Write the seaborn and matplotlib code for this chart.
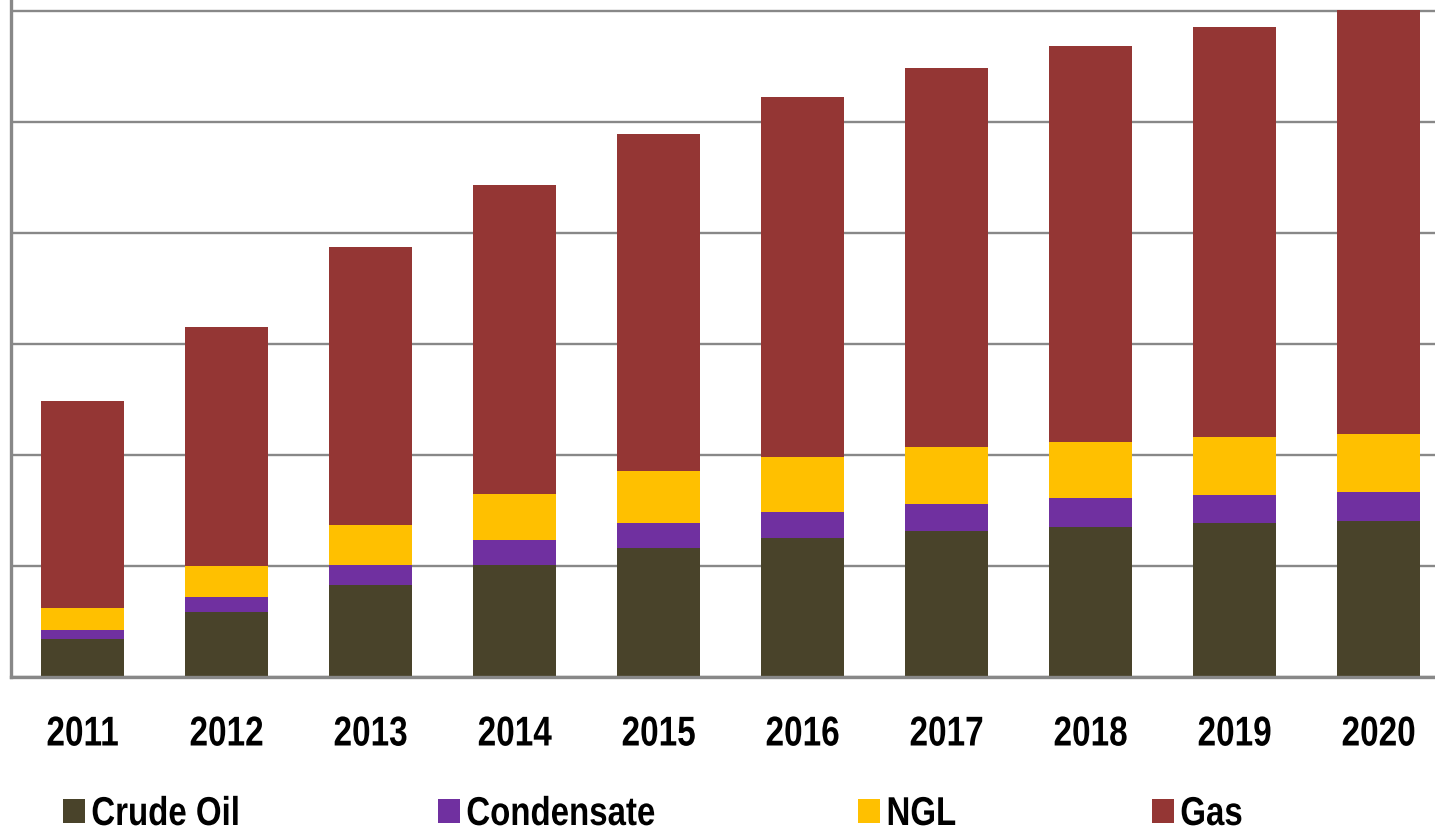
import matplotlib
matplotlib.use("Agg")
import matplotlib.pyplot as plt
from matplotlib.patheffects import AbstractPathEffect
from matplotlib.transforms import Affine2D
import numpy as np
import pandas as pd
import seaborn as sns

years = ["2011", "2012", "2013", "2014", "2015", "2016", "2017", "2018", "2019", "2020"]
crude_oil = [34, 59, 83, 101, 116, 125, 132, 135, 139, 141]
condensate = [8, 13, 18, 22, 23, 24, 24, 26, 25, 26]
ngl = [20, 28, 36, 42, 47, 49, 51, 51, 52, 52]
gas = [187, 215, 250, 278, 303, 325, 342, 357, 370, 382]

series_names = ["Crude Oil", "Condensate", "NGL", "Gas"]
series_colors = ["#49432A", "#7030A0", "#FFC000", "#943634"]


class Narrow(AbstractPathEffect):
    """Squeeze text horizontally to mimic a narrow typeface."""

    def __init__(self, sx=0.8, anchor="center"):
        super().__init__()
        self.sx = sx
        self.anchor = anchor

    def draw_path(self, renderer, gc, tpath, affine, rgbFace=None):
        ext = tpath.get_extents(affine)
        cx = (ext.x0 + ext.x1) / 2 if self.anchor == "center" else ext.x0
        squeeze = Affine2D().translate(-cx, 0).scale(self.sx, 1).translate(cx, 0)
        renderer.draw_path(gc, tpath, affine + squeeze, rgbFace)


sns.set_theme(style="white")
font_family = ["Liberation Sans", "DejaVu Sans"]
plt.rcParams["font.family"] = font_family

df = pd.DataFrame({
    "year": years,
    "Crude Oil": crude_oil,
    "Condensate": condensate,
    "NGL": ngl,
    "Gas": gas,
})

fig = plt.figure(figsize=(14.35, 8.3), dpi=100)
ax = fig.add_axes([11 / 1435, 1 - 677 / 830, 1 - 11 / 1435, 677 / 830])

bottom = np.zeros(len(years))
handles = []
for name, color in zip(series_names, series_colors):
    sns.barplot(data=df, x="year", y=name, color=color, width=0.576,
                bottom=bottom, ax=ax, saturation=1, edgecolor="none",
                label=name)
    handles.append(ax.containers[-1])
    bottom = bottom + df[name].to_numpy()

ax.set_xlim(-0.4965, 9.392)
ax.set_ylim(0, 610)
ax.set_yticks(np.arange(0, 601, 100))
ax.set_yticklabels([])
ax.yaxis.grid(True, color="#888888", linewidth=1.7)
ax.set_axisbelow(True)
ax.set_xlabel("")
ax.set_ylabel("")
ax.tick_params(axis="both", length=0)
ax.tick_params(axis="x", pad=27)
for lbl in ax.get_xticklabels():
    lbl.set_fontsize(30)
    lbl.set_fontweight("bold")
    lbl.set_color("black")
    lbl.set_path_effects([Narrow(0.8, "center")])

for side in ["top", "right"]:
    ax.spines[side].set_visible(False)
for side in ["left", "bottom"]:
    ax.spines[side].set_color("#888888")
    ax.spines[side].set_linewidth(2.4)

if ax.get_legend() is not None:
    ax.get_legend().remove()

# legend entries placed individually along the bottom
legend_x = [63, 438, 858, 1152]
legend_size = 29
fs_px = legend_size * 100 / 72
for h, name, lx in zip(handles, series_names, legend_x):
    leg = fig.legend([h.patches[0]], [name], loc="center left",
                     bbox_to_anchor=(lx / 1435, 1 - 814 / 830), frameon=False,
                     handlelength=22 / fs_px, handleheight=22 / fs_px,
                     handletextpad=6 / fs_px,
                     borderpad=0, borderaxespad=0,
                     prop={"size": legend_size, "weight": "bold",
                           "family": font_family})
    for t in leg.get_texts():
        t.set_color("black")
        t.set_path_effects([Narrow(0.82, "left")])

fig.savefig("out.png", dpi=100)
